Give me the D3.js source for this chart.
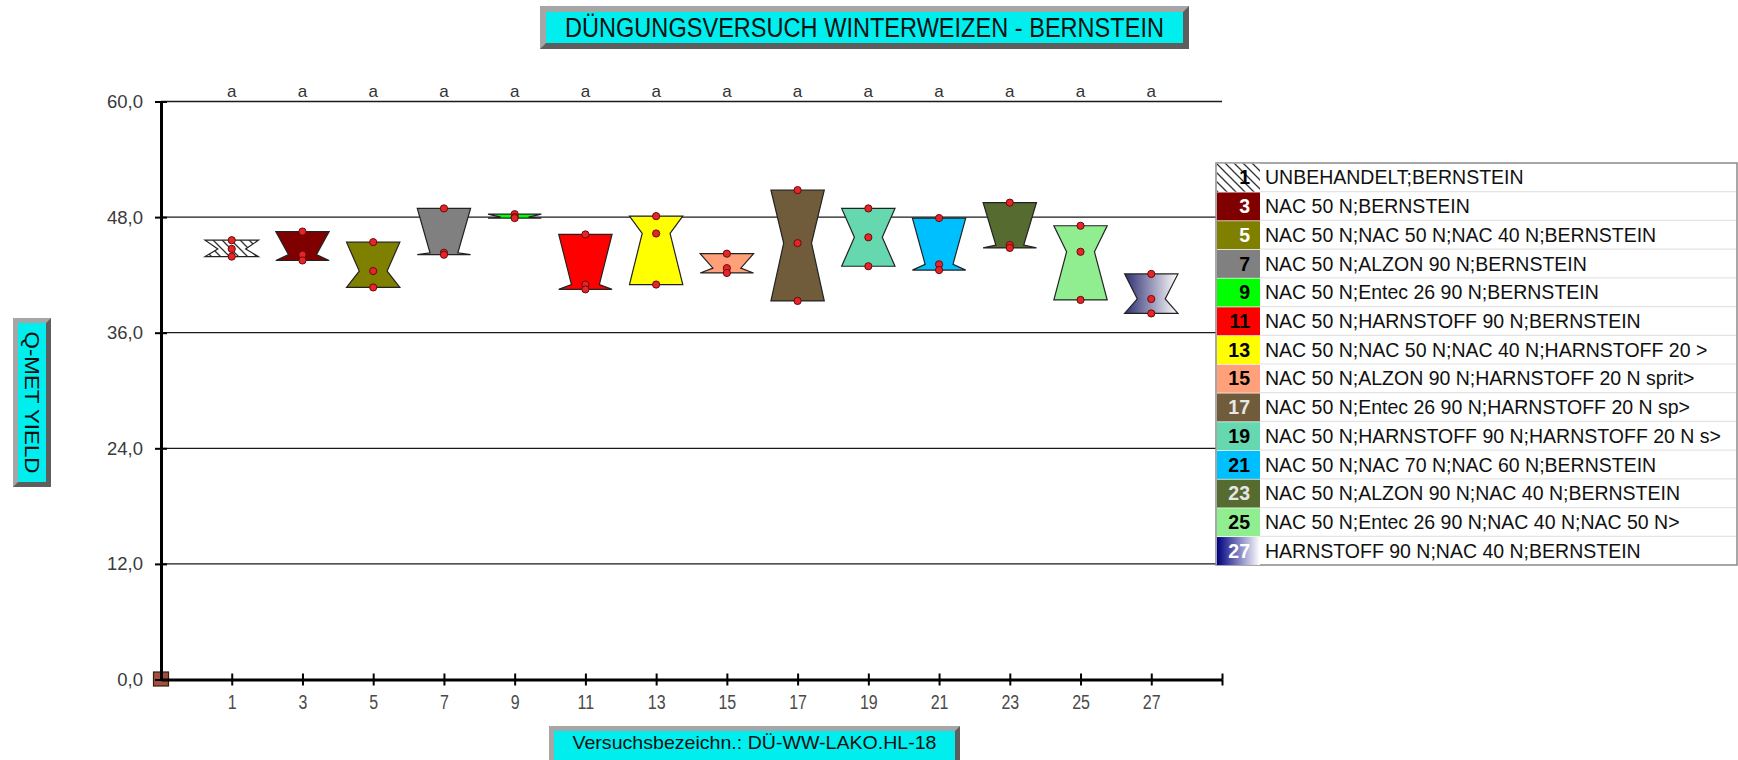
<!DOCTYPE html>
<html><head><meta charset="utf-8">
<script src="https://cdn.jsdelivr.net/npm/d3@7"></script>
<style>
body{margin:0;background:#fff;}
svg{display:block;font-family:"Liberation Sans",Arial,sans-serif;}
</style>
</head><body>
<svg id="c" width="1738" height="760"></svg>
<script>
// ---------- DATA ----------
const categories = ["1","3","5","7","9","11","13","15","17","19","21","23","25","27"];
const treatments = [
  "UNBEHANDELT;BERNSTEIN",
  "NAC 50 N;BERNSTEIN",
  "NAC 50 N;NAC 50 N;NAC 40 N;BERNSTEIN",
  "NAC 50 N;ALZON 90 N;BERNSTEIN",
  "NAC 50 N;Entec 26 90 N;BERNSTEIN",
  "NAC 50 N;HARNSTOFF 90 N;BERNSTEIN",
  "NAC 50 N;NAC 50 N;NAC 40 N;HARNSTOFF 20 >",
  "NAC 50 N;ALZON 90 N;HARNSTOFF 20 N sprit>",
  "NAC 50 N;Entec 26 90 N;HARNSTOFF 20 N sp>",
  "NAC 50 N;HARNSTOFF 90 N;HARNSTOFF 20 N s>",
  "NAC 50 N;NAC 70 N;NAC 60 N;BERNSTEIN",
  "NAC 50 N;ALZON 90 N;NAC 40 N;BERNSTEIN",
  "NAC 50 N;Entec 26 90 N;NAC 40 N;NAC 50 N>",
  "HARNSTOFF 90 N;NAC 40 N;BERNSTEIN"
];
const yieldHigh = [45.6, 46.5, 45.4, 48.9, 48.3, 46.2, 48.1, 44.2, 50.8, 48.9, 47.9, 49.5, 47.1, 42.1];
const yieldMid  = [44.7, 44.1, 42.4, 44.3, 48.0, 41.0, 46.3, 42.7, 45.3, 45.9, 43.1, 45.1, 44.4, 39.5];
const yieldLow  = [43.9, 43.5, 40.7, 44.1, 47.9, 40.5, 41.0, 42.2, 39.3, 42.9, 42.5, 44.8, 39.4, 38.0];
const sigLetters = ["a","a","a","a","a","a","a","a","a","a","a","a","a","a"];
const yTicks = [0, 12, 24, 36, 48, 60];
const fills = ["url(#hatch)","#800000","#808000","#808080","#00ff00","#ff0000","#ffff00",
  "#ffa07a","#705c3b","#66d8b0","#00bfff","#556b2f","#90ee90","url(#grad27)"];
const numColors = ["#000","#fff","#fff","#000","#000","#000","#000","#000","#e6e6e6","#000","#000","#e6e6e6","#000","#fff"];
const titleText = "DÜNGUNGSVERSUCH WINTERWEIZEN - BERNSTEIN";
const yTitle = "Q-MET YIELD";
const xTitle = "Versuchsbezeichn.: DÜ-WW-LAKO.HL-18";

// ---------- SETUP ----------
const svg = d3.select("#c");
const defs = svg.append("defs");
const hatch = defs.append("pattern").attr("id","hatch").attr("patternUnits","userSpaceOnUse")
  .attr("width",9).attr("height",9);
hatch.append("rect").attr("width",9).attr("height",9).attr("fill","#fff");
hatch.append("path").attr("d","M0,0L9,9M-2,7L2,11M7,-2L11,2").attr("stroke","#333").attr("stroke-width",1.3);
const g27 = defs.append("linearGradient").attr("id","grad27").attr("x1",0).attr("x2",1).attr("y1",0).attr("y2",0);
g27.append("stop").attr("offset",0).attr("stop-color","#000080");
g27.append("stop").attr("offset",1).attr("stop-color","#ffffff");
const g27b = defs.append("linearGradient").attr("id","grad27b").attr("x1",0).attr("x2",1).attr("y1",0).attr("y2",0);
g27b.append("stop").attr("offset",0).attr("stop-color","#2e2e72");
g27b.append("stop").attr("offset",1).attr("stop-color","#ffffff");

const x = d3.scaleLinear().domain([0, 15]).range([161, 1222]);
const y = d3.scaleLinear().domain([0, 60]).range([679.5, 101.5]);
const fmt = v => d3.format(".1f")(v).replace(".", ",");

// bevel box helper
function bevelBox(x0, y0, w, h, b) {
  const g = svg.append("g");
  g.append("rect").attr("x",x0).attr("y",y0).attr("width",w).attr("height",h).attr("fill","#a6a6a6");
  g.append("path").attr("d",`M${x0+w},${y0}L${x0+w},${y0+h}L${x0},${y0+h}L${x0+b},${y0+h-b}L${x0+w-b},${y0+h-b}L${x0+w-b},${y0+b}Z`)
    .attr("fill","#5e5e5e");
  g.append("rect").attr("x",x0+b).attr("y",y0+b).attr("width",w-2*b).attr("height",h-2*b).attr("fill","#00eeee");
  return g;
}

// ---------- GRID ----------
svg.append("g").selectAll("line").data(yTicks.filter(v => v > 0)).join("line")
  .attr("x1", x(0)).attr("x2", x(15)).attr("y1", d => y(d)).attr("y2", d => y(d))
  .attr("stroke", "#1a1a1a").attr("stroke-width", 1.3);

// origin marker
svg.append("rect").attr("x", x(0)-7.5).attr("y", y(0)-7.5).attr("width", 15).attr("height", 14)
  .attr("fill", "#a0503c").attr("stroke", "#3a1a10").attr("stroke-width", 1.2);

// ---------- AXES ----------
const yAxis = svg.append("g").attr("transform", `translate(${x(0)},0)`)
  .call(d3.axisLeft(y).tickValues(yTicks).tickFormat(fmt).tickSizeInner(6).tickSizeOuter(0).tickPadding(12));
yAxis.select(".domain").attr("stroke-width", 3);
yAxis.selectAll(".tick line").attr("stroke-width", 2);
yAxis.selectAll(".tick text").attr("font-size", 18.5).attr("fill", "#3a3a3a").attr("font-family", "Liberation Sans, Arial, sans-serif");
yAxis.selectAll(".tick").append("line").attr("x1", 0).attr("x2", 6).attr("stroke", "#000").attr("stroke-width", 2);

const xAxis = svg.append("g").attr("transform", `translate(0,${y(0)})`)
  .call(d3.axisBottom(x).tickValues(d3.range(1, 16)).tickFormat(d => d <= categories.length ? categories[d-1] : "")
    .tickSizeInner(6).tickSizeOuter(0).tickPadding(10));
xAxis.select(".domain").attr("stroke-width", 3);
xAxis.selectAll(".tick line").attr("stroke-width", 2);
xAxis.selectAll(".tick").append("line").attr("y1", 0).attr("y2", -6).attr("stroke", "#000").attr("stroke-width", 2);
xAxis.selectAll(".tick text").attr("font-size", 19.5).attr("fill", "#4a4a4a")
  .attr("font-family", "Liberation Sans, Arial, sans-serif").attr("transform", "scale(0.82,1)");

// significance letters
svg.append("g").selectAll("text").data(sigLetters).join("text")
  .attr("x", (d, i) => x(i + 1)).attr("y", 97).attr("text-anchor", "middle")
  .attr("font-size", 17).attr("fill", "#333").text(d => d);

// ---------- BOXES ----------
const step = x(1) - x(0);
const half = step * 0.377;
const ind = step * 0.18;
const boxes = svg.append("g").selectAll("g").data(categories).join("g");
boxes.append("polygon")
  .attr("points", (d, i) => {
    const cx = x(i + 1), hi = y(yieldHigh[i]), md = y(yieldMid[i]), lo = y(yieldLow[i]);
    return [[cx-half,hi],[cx+half,hi],[cx+half-ind,md],[cx+half,lo],[cx-half,lo],[cx-half+ind,md]].map(p => p.join(",")).join(" ");
  })
  .attr("fill", (d, i) => i === 13 ? "url(#grad27b)" : fills[i])
  .attr("stroke", "#222").attr("stroke-width", 1.2).attr("stroke-linejoin", "miter");
boxes.each(function(d, i) {
  d3.select(this).selectAll("circle").data([yieldHigh[i], yieldMid[i], yieldLow[i]]).join("circle")
    .attr("cx", x(i + 1)).attr("cy", v => y(v)).attr("r", 3.6)
    .attr("fill", "#e4262a").attr("stroke", "#6a0a0a").attr("stroke-width", 1);
});

// ---------- LEGEND ----------
const lx = 1216, ly = 163, lw = 521, lh = 402;
const rowH = lh / categories.length;
const leg = svg.append("g");
leg.append("rect").attr("x", lx).attr("y", ly).attr("width", lw).attr("height", lh)
  .attr("fill", "#fff").attr("stroke", "#8a8a8a").attr("stroke-width", 1.5);
const rows = leg.selectAll("g.row").data(categories).join("g").attr("class", "row");
rows.append("rect").attr("x", lx + 1).attr("y", (d, i) => ly + i * rowH + 0.75)
  .attr("width", 43).attr("height", rowH - 0.75).attr("fill", (d, i) => fills[i]);
rows.filter((d, i) => i < categories.length - 1).append("line")
  .attr("x1", lx + 44).attr("x2", lx + lw - 1)
  .attr("y1", (d, i) => ly + (i + 1) * rowH).attr("y2", (d, i) => ly + (i + 1) * rowH)
  .attr("stroke", "#e4e4e4").attr("stroke-width", 1.2);
rows.append("text").attr("x", lx + 34).attr("y", (d, i) => ly + (i + 0.5) * rowH)
  .attr("dy", "0.36em").attr("text-anchor", "end").attr("font-size", 19.5).attr("font-weight", "bold")
  .attr("fill", (d, i) => numColors[i]).text(d => d);
rows.append("text").attr("x", lx + 49).attr("y", (d, i) => ly + (i + 0.5) * rowH)
  .attr("dy", "0.36em").attr("font-size", 19.5).attr("fill", "#111").text((d, i) => treatments[i]);

// ---------- TITLES ----------
bevelBox(540, 6, 649, 43, 6);
svg.append("text").attr("x", 864.5).attr("y", 37).attr("text-anchor", "middle")
  .attr("font-size", 27).attr("fill", "#111").attr("textLength", 599).attr("lengthAdjust", "spacingAndGlyphs")
  .text(titleText);

bevelBox(13, 318, 38, 169, 5);
svg.append("text").attr("transform", "translate(32,402.5) rotate(90)").attr("text-anchor", "middle")
  .attr("dy", "0.36em").attr("font-size", 20).attr("fill", "#111")
  .attr("textLength", 142).attr("lengthAdjust", "spacingAndGlyphs").text(yTitle);

bevelBox(549, 726, 411, 40, 5);
svg.append("text").attr("x", 754.5).attr("y", 749).attr("text-anchor", "middle")
  .attr("font-size", 19).attr("fill", "#111").attr("textLength", 364).attr("lengthAdjust", "spacingAndGlyphs")
  .text(xTitle);
</script>
</body></html>
